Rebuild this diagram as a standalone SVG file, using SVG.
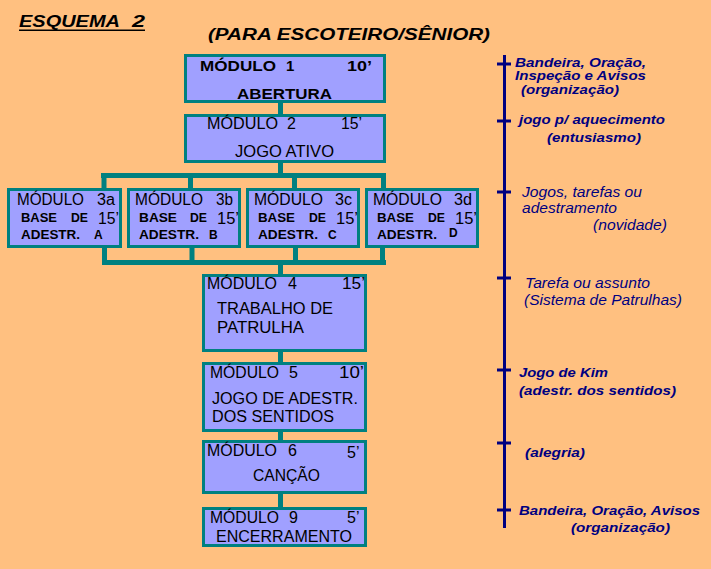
<svg xmlns="http://www.w3.org/2000/svg" width="711" height="569" viewBox="0 0 711 569">
<style>
.box{fill:#A0A0FF;stroke:#008080;stroke-width:3}
.con{fill:none;stroke:#008080;stroke-width:5;stroke-linejoin:miter;stroke-linecap:butt}
.tl{fill:none;stroke:#000080;stroke-width:3}
text{font-family:"Liberation Sans",Arial,sans-serif;fill:#000}
.mb{font-size:15px;font-weight:bold}
.mr{font-size:16px}
.b12{font-size:12px;font-weight:bold}
.ann{font-size:12px;font-weight:bold;font-style:italic;fill:#000080}
.anni{font-size:14px;font-style:italic;fill:#000080}
.ttl{font-size:16px;font-weight:bold;font-style:italic}
</style>
<rect width="711" height="569" fill="#FFC080"/>
<g id="title">
<text class="ttl" x="19" y="27" textLength="101" lengthAdjust="spacingAndGlyphs">ESQUEMA</text>
<text class="ttl" x="132" y="27" textLength="13" lengthAdjust="spacingAndGlyphs">2</text>
<rect x="19" y="29.5" width="126" height="1.5" fill="#000"/>
<text class="ttl" x="208" y="40" textLength="282" lengthAdjust="spacingAndGlyphs">(PARA ESCOTEIRO/SÊNIOR)</text>
</g>
<g id="connectors">
<path class="con" d="M280.5 103V114M280.5 163V175.5M101 175.5H386M104 175.5V188M190.5 175.5V188M294.5 175.5V188M383.5 175.5V188"/>
<path class="con" d="M104.5 248V262.5M192 248V262.5M295.5 248V262.5M382.5 248V262.5M102 262.5H386M280.5 262.5V274M280.5 352V362M280.5 432V440M280.5 494V507"/>
</g>
<g id="timeline">
<path class="tl" d="M504.5 55V528M497 64H511M497 121H511M497 192H511M497 278H511M497 370H511M497 443H511M497 510H511"/>
<text class="ann" x="515" y="67" textLength="131" lengthAdjust="spacingAndGlyphs">Bandeira, Oração,</text>
<text class="ann" x="515" y="80" textLength="131" lengthAdjust="spacingAndGlyphs">Inspeção e Avisos</text>
<text class="ann" x="521" y="94" textLength="98" lengthAdjust="spacingAndGlyphs">(organização)</text>
<text class="ann" x="519" y="124" textLength="146" lengthAdjust="spacingAndGlyphs">jogo p/ aquecimento</text>
<text class="ann" x="547" y="142" textLength="94" lengthAdjust="spacingAndGlyphs">(entusiasmo)</text>
<text class="anni" x="522" y="197" textLength="120" lengthAdjust="spacingAndGlyphs">Jogos, tarefas ou</text>
<text class="anni" x="522" y="213" textLength="95" lengthAdjust="spacingAndGlyphs">adestramento</text>
<text class="anni" x="593" y="230" textLength="74" lengthAdjust="spacingAndGlyphs">(novidade)</text>
<text class="anni" x="525" y="288" textLength="125" lengthAdjust="spacingAndGlyphs">Tarefa ou assunto</text>
<text class="anni" x="524" y="305" textLength="158" lengthAdjust="spacingAndGlyphs">(Sistema de Patrulhas)</text>
<text class="ann" x="519" y="377" textLength="89" lengthAdjust="spacingAndGlyphs">Jogo de Kim</text>
<text class="ann" x="519" y="395" textLength="157" lengthAdjust="spacingAndGlyphs">(adestr. dos sentidos)</text>
<text class="ann" x="525" y="457" textLength="60" lengthAdjust="spacingAndGlyphs">(alegria)</text>
<text class="ann" x="519" y="515" textLength="181" lengthAdjust="spacingAndGlyphs">Bandeira, Oração, Avisos</text>
<text class="ann" x="571" y="532" textLength="99" lengthAdjust="spacingAndGlyphs">(organização)</text>
</g>
<g id="m1">
<rect class="box" x="185.5" y="55.5" width="199" height="46"/>
<text class="mb" x="200" y="71" textLength="76" lengthAdjust="spacingAndGlyphs">MÓDULO</text>
<text class="mb" x="286" y="71">1</text>
<text class="mb" x="347" y="71" textLength="25" lengthAdjust="spacingAndGlyphs">10’</text>
<text class="mb" x="237" y="99" textLength="95" lengthAdjust="spacingAndGlyphs">ABERTURA</text>
</g>
<g id="m2">
<rect class="box" x="185.5" y="115.5" width="199" height="46"/>
<text class="mr" x="207" y="129" textLength="71" lengthAdjust="spacingAndGlyphs">MÓDULO</text>
<text class="mr" x="287" y="129">2</text>
<text class="mr" x="341" y="129" textLength="21" lengthAdjust="spacingAndGlyphs">15’</text>
<text class="mr" x="235" y="157" textLength="99" lengthAdjust="spacingAndGlyphs">JOGO ATIVO</text>
</g>
<g id="m3a">
<rect class="box" x="8.5" y="189.5" width="112" height="57"/>
<text class="mr" x="17" y="205" textLength="67" lengthAdjust="spacingAndGlyphs">MÓDULO</text>
<text class="mr" x="97" y="205" textLength="18" lengthAdjust="spacingAndGlyphs">3a</text>
<text class="b12" x="21" y="222" textLength="36" lengthAdjust="spacingAndGlyphs">BASE</text>
<text class="b12" x="71" y="222" textLength="17" lengthAdjust="spacingAndGlyphs">DE</text>
<text class="mr" x="98" y="224" textLength="21" lengthAdjust="spacingAndGlyphs">15’</text>
<text class="b12" x="21" y="239" textLength="59" lengthAdjust="spacingAndGlyphs">ADESTR.</text>
<text class="b12" x="94" y="239">A</text>
</g>
<g id="m3b">
<rect class="box" x="128.5" y="189.5" width="111" height="57"/>
<text class="mr" x="135" y="205" textLength="68" lengthAdjust="spacingAndGlyphs">MÓDULO</text>
<text class="mr" x="216" y="205" textLength="17" lengthAdjust="spacingAndGlyphs">3b</text>
<text class="b12" x="139" y="222" textLength="38" lengthAdjust="spacingAndGlyphs">BASE</text>
<text class="b12" x="190" y="222" textLength="17" lengthAdjust="spacingAndGlyphs">DE</text>
<text class="mr" x="217" y="224" textLength="22" lengthAdjust="spacingAndGlyphs">15’</text>
<text class="b12" x="139" y="239" textLength="60" lengthAdjust="spacingAndGlyphs">ADESTR.</text>
<text class="b12" x="209" y="239">B</text>
</g>
<g id="m3c">
<rect class="box" x="247.5" y="189.5" width="111" height="57"/>
<text class="mr" x="254" y="205" textLength="69" lengthAdjust="spacingAndGlyphs">MÓDULO</text>
<text class="mr" x="335" y="205" textLength="17" lengthAdjust="spacingAndGlyphs">3c</text>
<text class="b12" x="258" y="222" textLength="37" lengthAdjust="spacingAndGlyphs">BASE</text>
<text class="b12" x="309" y="222" textLength="17" lengthAdjust="spacingAndGlyphs">DE</text>
<text class="mr" x="336" y="224" textLength="22" lengthAdjust="spacingAndGlyphs">15’</text>
<text class="b12" x="258" y="239" textLength="60" lengthAdjust="spacingAndGlyphs">ADESTR.</text>
<text class="b12" x="328" y="239">C</text>
</g>
<g id="m3d">
<rect class="box" x="366.5" y="189.5" width="111" height="57"/>
<text class="mr" x="373" y="205" textLength="69" lengthAdjust="spacingAndGlyphs">MÓDULO</text>
<text class="mr" x="454" y="205" textLength="18" lengthAdjust="spacingAndGlyphs">3d</text>
<text class="b12" x="377" y="222" textLength="37" lengthAdjust="spacingAndGlyphs">BASE</text>
<text class="b12" x="428" y="222" textLength="17" lengthAdjust="spacingAndGlyphs">DE</text>
<text class="mr" x="455" y="224" textLength="22" lengthAdjust="spacingAndGlyphs">15’</text>
<text class="b12" x="377" y="239" textLength="60" lengthAdjust="spacingAndGlyphs">ADESTR.</text>
<text class="b12" x="449" y="237">D</text>
</g>
<g id="m4">
<rect class="box" x="203.5" y="275.5" width="162" height="75"/>
<text class="mr" x="207" y="289" textLength="70" lengthAdjust="spacingAndGlyphs">MÓDULO</text>
<text class="mr" x="288" y="289">4</text>
<text class="mr" x="342" y="289" textLength="23" lengthAdjust="spacingAndGlyphs">15’</text>
<text class="mr" x="217" y="314" textLength="116" lengthAdjust="spacingAndGlyphs">TRABALHO DE</text>
<text class="mr" x="217" y="333" textLength="87" lengthAdjust="spacingAndGlyphs">PATRULHA</text>
</g>
<g id="m5">
<rect class="box" x="203.5" y="363.5" width="162" height="67"/>
<text class="mr" x="210" y="378" textLength="69" lengthAdjust="spacingAndGlyphs">MÓDULO</text>
<text class="mr" x="289" y="378">5</text>
<text class="mr" x="339" y="378" textLength="25" lengthAdjust="spacingAndGlyphs">10’</text>
<text class="mr" x="212" y="404" textLength="146" lengthAdjust="spacingAndGlyphs">JOGO DE ADESTR.</text>
<text class="mr" x="212" y="422" textLength="122" lengthAdjust="spacingAndGlyphs">DOS SENTIDOS</text>
</g>
<g id="m6">
<rect class="box" x="203.5" y="441.5" width="162" height="51"/>
<text class="mr" x="207" y="456" textLength="70" lengthAdjust="spacingAndGlyphs">MÓDULO</text>
<text class="mr" x="288" y="456">6</text>
<text class="mr" x="347" y="458">5’</text>
<text class="mr" x="253" y="481" textLength="67" lengthAdjust="spacingAndGlyphs">CANÇÃO</text>
</g>
<g id="m9">
<rect class="box" x="203.5" y="508.5" width="162" height="37"/>
<text class="mr" x="210" y="523" textLength="69" lengthAdjust="spacingAndGlyphs">MÓDULO</text>
<text class="mr" x="289" y="523">9</text>
<text class="mr" x="347" y="523">5’</text>
<text class="mr" x="216" y="542" textLength="136" lengthAdjust="spacingAndGlyphs">ENCERRAMENTO</text>
</g>
</svg>
